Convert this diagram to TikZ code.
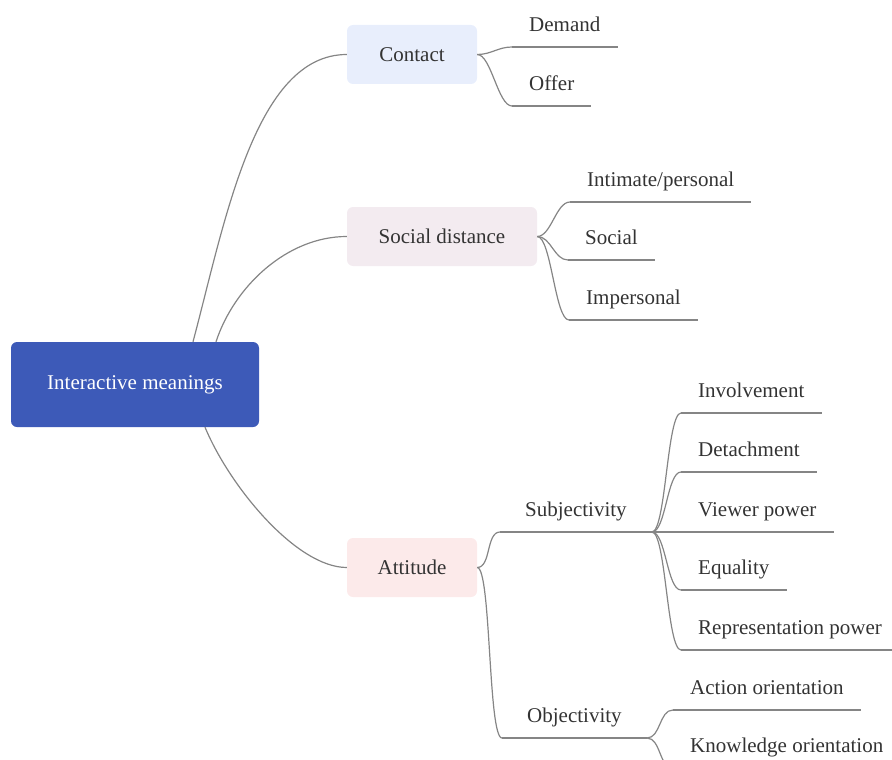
\documentclass[tikz,border=0pt]{standalone}
\usepackage{fontspec}
\setmainfont{Liberation Serif}
\usepackage{xcolor}
\usetikzlibrary{positioning, calc}

\definecolor{rootblue}{HTML}{3D5AB8}
\definecolor{contactfill}{HTML}{E8EEFC}
\definecolor{socialfill}{HTML}{F3EBF0}
\definecolor{attitudefill}{HTML}{FCEAEA}
\definecolor{linkgray}{HTML}{858585}
\definecolor{textgray}{HTML}{333333}

\begin{document}
\begin{tikzpicture}[
        x=1pt, y=-1pt,
        every node/.style={font=\fontsize{21}{25}\selectfont},
        rootbox/.style={rectangle, rounded corners=6pt, fill=rootblue, text=white, minimum width=248pt, minimum height=85pt},
        topicbox/.style={rectangle, rounded corners=6pt, text=textgray, minimum height=59pt},
        leaf/.style={anchor=south west, inner xsep=17pt, inner ysep=10pt, text height=15pt, text depth=5pt, text=textgray},
        midleaf/.style={leaf, inner xsep=25pt},
        link/.style={draw=linkgray, line width=1.2pt},
        twig/.style={out=0, in=180, distance=14pt}
    ]

    \useasboundingbox (0,0) rectangle (892,760);
    \clip (0,0) rectangle (892,760);

    % --- Main Nodes ---
    \node[rootbox] (root) at (135,384.5) {Interactive meanings};
    \node[topicbox, fill=contactfill, minimum width=130pt] (contact) at (412,54.5) {Contact};
    \node[topicbox, fill=socialfill, minimum width=190pt] (social) at (442,236.5) {Social distance};
    \node[topicbox, fill=attitudefill, minimum width=130pt] (attitude) at (412,567.5) {Attitude};

    % --- Leaves (placed at the left end of their underline) ---
    \node[leaf] (demand) at (512,47) {Demand};
    \node[leaf] (offer) at (512,106) {Offer};

    \node[leaf] (intimate) at (570,202) {Intimate/personal};
    \node[leaf] (sociallf) at (568,260) {Social};
    \node[leaf] (impersonal) at (569,320) {Impersonal};

    \node[midleaf] (subj) at (500,532) {Subjectivity};
    \node[midleaf] (obj) at (502,738) {Objectivity};

    \node[leaf] (involve) at (681,413) {Involvement};
    \node[leaf] (detach) at (681,472) {Detachment};
    \node[leaf] (viewer) at (681,532) {Viewer power};
    \node[leaf] (equal) at (681,590) {Equality};
    \node[leaf] (repr) at (681,650) {Representation power};

    \node[leaf] (action) at (673,710) {Action orientation};
    \node[leaf] (knowledge) at (673,768) {Knowledge orientation};

    % --- Underlines ---
    \foreach \n in {demand, offer, intimate, sociallf, impersonal, subj, obj,
                    involve, detach, viewer, equal, repr, action, knowledge}
        \draw[link] (\n.south west) -- (\n.south east);

    % --- Connections from the root ---
    \draw[link] ([xshift=58pt]root.north) .. controls +(32,-120) and +(-92,0) .. (contact.west);
    \draw[link] ([xshift=81pt]root.north) .. controls +(18,-55) and +(-60,0) .. (social.west);
    \draw[link] ([xshift=70pt]root.south) .. controls +(25,60) and +(-50,0) .. (attitude.west);

    % --- Branches ---
    \draw[link] (contact.east) to[twig] (demand.south west);
    \draw[link] (contact.east) to[twig] (offer.south west);

    \draw[link] (social.east) to[twig] (intimate.south west);
    \draw[link] (social.east) to[twig] (sociallf.south west);
    \draw[link] (social.east) to[twig] (impersonal.south west);

    \draw[link] (attitude.east) to[twig] (subj.south west);
    \draw[link] (attitude.east) to[twig] (obj.south west);

    \draw[link] (subj.south east) to[twig] (involve.south west);
    \draw[link] (subj.south east) to[twig] (detach.south west);
    \draw[link] (subj.south east) -- (viewer.south west);
    \draw[link] (subj.south east) to[twig] (equal.south west);
    \draw[link] (subj.south east) to[twig] (repr.south west);

    \draw[link] (obj.south east) to[twig] (action.south west);
    \draw[link] (obj.south east) to[twig] (knowledge.south west);

\end{tikzpicture}
\end{document}
